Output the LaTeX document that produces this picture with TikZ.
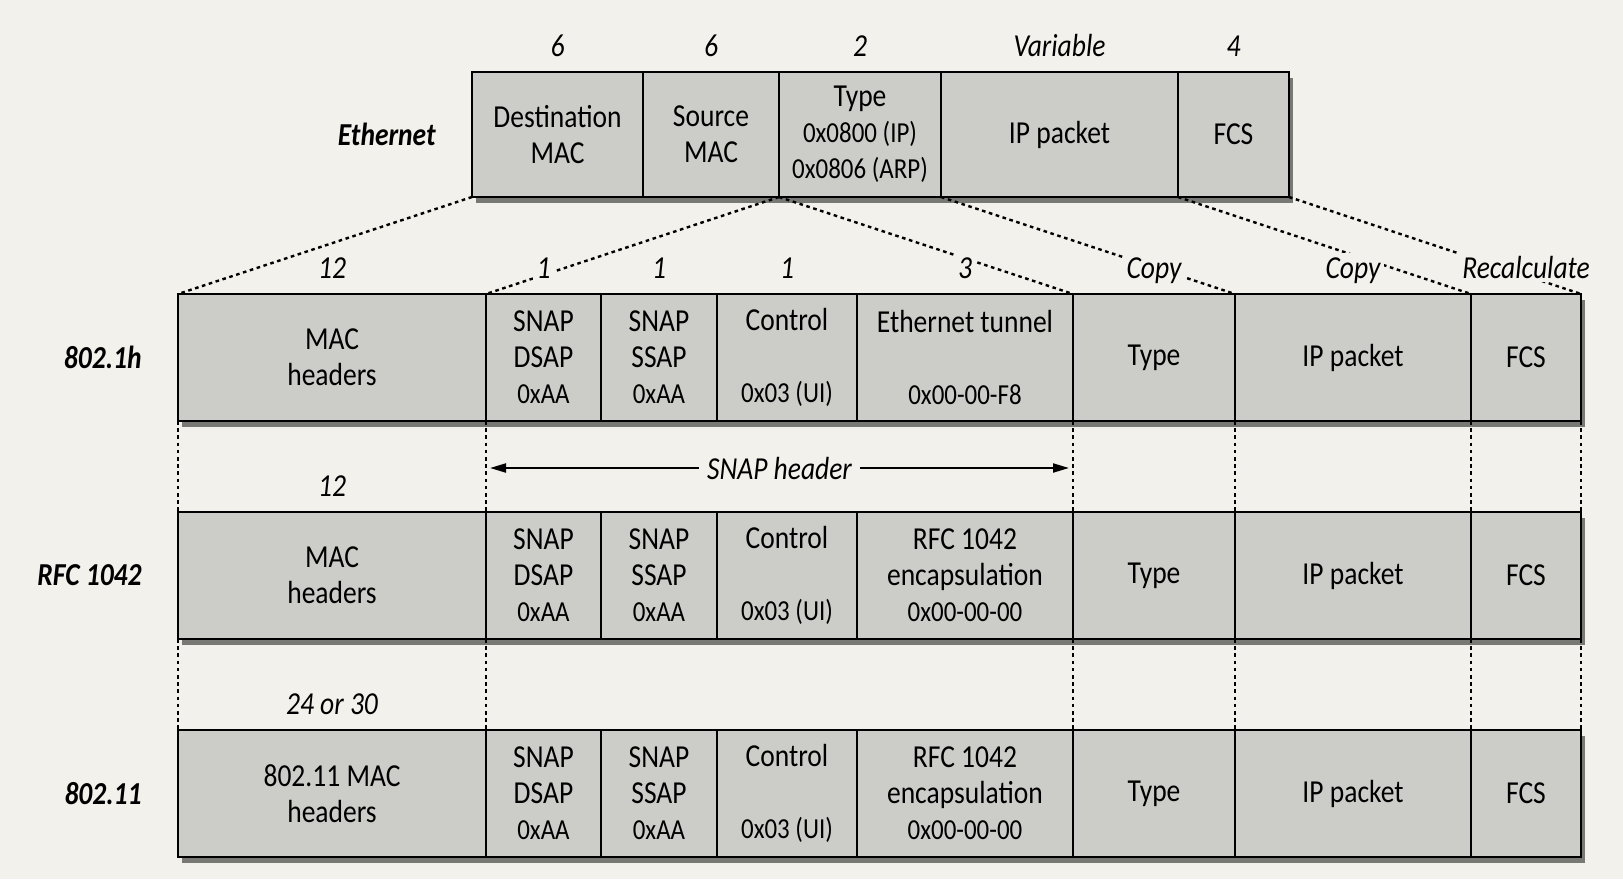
\documentclass[tikz,border=0pt]{standalone}
\usepackage{fontspec}
\setmainfont{Carlito}[FakeStretch=0.86]
\usetikzlibrary{shadows,arrows.meta}
\definecolor{paper}{RGB}{242,241,236}
\definecolor{boxgray}{RGB}{204,204,201}
\definecolor{shadowgray}{RGB}{120,120,117}
\newcommand{\hexsz}{\fontsize{14.5}{18}\selectfont}

\begin{document}
\begin{tikzpicture}[x=0.5pt, y=-0.5pt, >={Triangle[length=8pt,width=4.5pt]},
  font=\fontsize{16}{18}\selectfont,
  field/.style={draw=black, line width=0.7pt, fill=boxgray, anchor=north west, inner sep=0pt,
    outer sep=0pt, minimum height=63.5pt, align=center,
    drop shadow={shadow xshift=2pt, shadow yshift=-3pt, fill=shadowgray, opacity=1}},
  sizelbl/.style={font=\fontsize{16}{18}\selectfont\itshape, fill=paper, inner sep=2pt, anchor=base},
  rowlbl/.style={font=\fontsize{16}{18}\selectfont\bfseries\itshape, anchor=east, inner sep=0pt},
  link/.style={line width=1.2pt, dash pattern=on 1.8pt off 1.8pt}]
  \fill[paper] (0,0) rectangle (1623,879);
  \useasboundingbox (0,0) rectangle (1623,879);

  % Ethernet frame
  \node[field, minimum height=62.5pt, minimum width=85.5pt] (edst) at (472,72) {Destination\\MAC};
  \node[field, minimum height=62.5pt, minimum width=68pt] (esrc) at (edst.north east) {Source\\MAC};
  \node[field, minimum height=62.5pt, minimum width=81pt] (etype) at (esrc.north east) {Type\\{\hexsz 0x0800 (IP)}\\{\hexsz 0x0806 (ARP)}};
  \node[field, minimum height=62.5pt, minimum width=118.5pt] (eip) at (etype.north east) {IP packet};
  \node[field, minimum height=62.5pt, minimum width=55.5pt] (efcs) at (eip.north east) {FCS};
  \node[rowlbl] (leth) at ([xshift=-18pt]edst.west) {Ethernet};
  \node[sizelbl] (sdst) at ([yshift=8pt]edst.north) {6};
  \node[sizelbl] (ssrc) at ([yshift=8pt]esrc.north) {6};
  \node[sizelbl] (stype) at ([yshift=8pt]etype.north) {2};
  \node[sizelbl] (sip) at ([yshift=8pt]eip.north) {Variable};
  \node[sizelbl] (sfcs) at ([yshift=8pt]efcs.north) {4};

  % 802.1h
  \node[field, minimum width=154pt] (hmac) at (178,294) {MAC\\headers};
  \node[field, minimum width=57.5pt] (hdsap) at (hmac.north east) {SNAP\\DSAP\\{\hexsz 0xAA}};
  \node[field, minimum width=58pt] (hssap) at (hdsap.north east) {SNAP\\SSAP\\{\hexsz 0xAA}};
  \node[field, minimum width=70pt] (hctrl) at (hssap.north east) {Control\\[18pt]{\hexsz 0x03 (UI)}};
  \node[field, minimum width=108pt] (htun) at (hctrl.north east) {Ethernet tunnel\\[18pt]{\hexsz 0x00-00-F8}};
  \node[field, minimum width=81pt] (htype) at (htun.north east) {Type};
  \node[field, minimum width=118pt] (hip) at (htype.north east) {IP packet};
  \node[field, minimum width=55pt] (hfcs) at (hip.north east) {FCS};
  \node[rowlbl] (lh) at ([xshift=-18pt]hmac.west) {802.1h};

  % RFC 1042
  \node[field, minimum width=154pt] (rmac) at (178,512) {MAC\\headers};
  \node[field, minimum width=57.5pt] (rdsap) at (rmac.north east) {SNAP\\DSAP\\{\hexsz 0xAA}};
  \node[field, minimum width=58pt] (rssap) at (rdsap.north east) {SNAP\\SSAP\\{\hexsz 0xAA}};
  \node[field, minimum width=70pt] (rctrl) at (rssap.north east) {Control\\[18pt]{\hexsz 0x03 (UI)}};
  \node[field, minimum width=108pt] (rtun) at (rctrl.north east) {RFC 1042\\encapsulation\\{\hexsz 0x00-00-00}};
  \node[field, minimum width=81pt] (rtype) at (rtun.north east) {Type};
  \node[field, minimum width=118pt] (rip) at (rtype.north east) {IP packet};
  \node[field, minimum width=55pt] (rfcs) at (rip.north east) {FCS};
  \node[rowlbl] (lr) at ([xshift=-18pt]rmac.west) {RFC 1042};

  % 802.11
  \node[field, minimum width=154pt] (wmac) at (178,730) {802.11 MAC\\headers};
  \node[field, minimum width=57.5pt] (wdsap) at (wmac.north east) {SNAP\\DSAP\\{\hexsz 0xAA}};
  \node[field, minimum width=58pt] (wssap) at (wdsap.north east) {SNAP\\SSAP\\{\hexsz 0xAA}};
  \node[field, minimum width=70pt] (wctrl) at (wssap.north east) {Control\\[18pt]{\hexsz 0x03 (UI)}};
  \node[field, minimum width=108pt] (wtun) at (wctrl.north east) {RFC 1042\\encapsulation\\{\hexsz 0x00-00-00}};
  \node[field, minimum width=81pt] (wtype) at (wtun.north east) {Type};
  \node[field, minimum width=118pt] (wip) at (wtype.north east) {IP packet};
  \node[field, minimum width=55pt] (wfcs) at (wip.north east) {FCS};
  \node[rowlbl] (lw) at ([xshift=-18pt]wmac.west) {802.11};

  % mapping from the Ethernet frame
  \draw[link] (edst.south west) -- (hmac.north west);
  \draw[link] (etype.south west) -- (hdsap.north west);
  \draw[link] (etype.south west) -- (htun.north east);
  \draw[link] (etype.south east) -- (htype.north east);
  \draw[link] (eip.south east) -- (hip.north east);
  \draw[link] (efcs.south east) -- (hfcs.north east);

  % field sizes, 802.1h
  \node[sizelbl] (shmac) at ([yshift=8pt]hmac.north) {12};
  \node[sizelbl] (shdsap) at ([yshift=8pt]hdsap.north) {1};
  \node[sizelbl] (shssap) at ([yshift=8pt]hssap.north) {1};
  \node[sizelbl] (shctrl) at ([yshift=8pt]hctrl.north) {1};
  \node[sizelbl] (shtun) at ([yshift=8pt]htun.north) {3};
  \node[sizelbl] (shtype) at ([yshift=8pt]htype.north) {Copy};
  \node[sizelbl] (ship) at ([yshift=8pt]hip.north) {Copy};
  \node[sizelbl] (shfcs) at ([yshift=8pt]hfcs.north) {Recalculate};
  \node[sizelbl] (srmac) at ([yshift=8pt]rmac.north) {12};
  \node[sizelbl] (swmac) at ([yshift=8pt]wmac.north) {24 or 30};

  % column guides
  \draw[link] (hmac.south west) -- (rmac.north west);
  \draw[link] (hdsap.south west) -- (rdsap.north west);
  \draw[link] (htun.south east) -- (rtun.north east);
  \draw[link] (htype.south east) -- (rtype.north east);
  \draw[link] (hip.south east) -- (rip.north east);
  \draw[link] (hfcs.south east) -- (rfcs.north east);
  \draw[link] (rmac.south west) -- (wmac.north west);
  \draw[link] (rdsap.south west) -- (wdsap.north west);
  \draw[link] (rtun.south east) -- (wtun.north east);
  \draw[link] (rtype.south east) -- (wtype.north east);
  \draw[link] (rip.south east) -- (wip.north east);
  \draw[link] (rfcs.south east) -- (wfcs.north east);

  \draw[<->, line width=1pt] ([shift={(4,47)}]hdsap.south west) -- ([shift={(-4,47)}]htun.south east)
    node[midway, sizelbl, anchor=center, inner sep=4pt] (snap) {SNAP header};
\end{tikzpicture}
\end{document}
